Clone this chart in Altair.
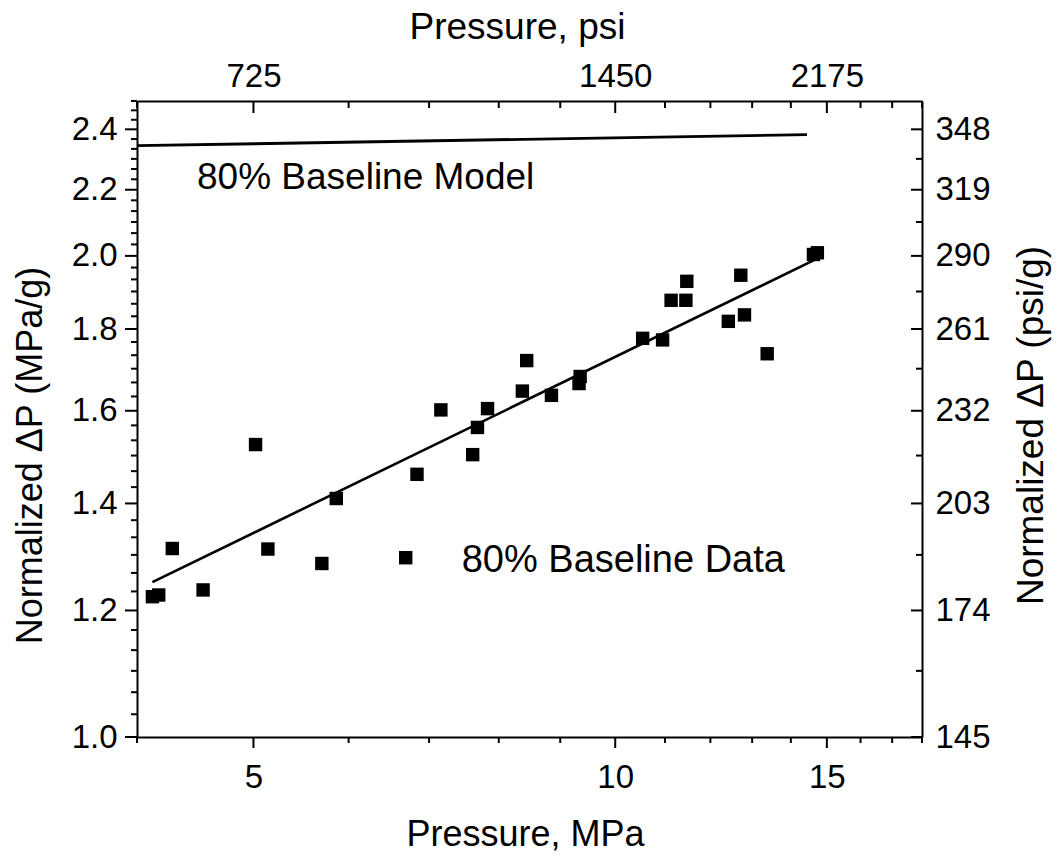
import altair as alt
import pandas as pd

# ---------------- data ----------------
pressure_mpa = [4.12, 4.17, 4.28, 4.54, 5.02, 5.14, 5.70, 5.86, 6.84, 7.16,
                7.61, 7.68, 7.83, 8.37, 8.44, 8.85, 9.33, 9.35, 10.54, 10.95,
                11.13, 11.45, 11.47, 12.42, 12.72, 12.81, 13.38, 14.62, 14.73]
norm_dp = [1.224, 1.227, 1.312, 1.236, 1.524, 1.311, 1.284, 1.410, 1.460, 1.602,
           1.502, 1.562, 1.605, 1.646, 1.720, 1.636, 1.664, 1.681, 1.776, 1.772,
           1.876, 1.876, 1.928, 1.820, 1.945, 1.837, 1.737, 2.004, 2.009]

fit_x = [4.12, 14.68]
fit_y = [1.250, 1.990]

model_x = [4.0, 14.44]
model_y = [2.344, 2.382]

model_label = ["80% Baseline Model"]
data_label = ["80% Baseline Data"]

# ---------------- ticks / tick labels ----------------
x_major = [5, 10, 15]
x_minor = [4, 6, 7, 8, 9, 11, 12, 13, 14, 16, 17, 18]
psi_labels = ["725", "1450", "2175"]

y_major = [1.0, 1.2, 1.4, 1.6, 1.8, 2.0, 2.2, 2.4]
y_left_all = [round(1 + i / 30, 6) for i in range(46)]
y_left_minor = [v for v in y_left_all if min(abs(v - m) for m in y_major) > 1e-6]
y_right_minor = [1.1, 1.3, 1.5, 1.7, 1.9, 2.1, 2.3]
psi_g_labels = ["145", "174", "203", "232", "261", "290", "319", "348"]

FONT = "Liberation Sans"
W, H = 785, 636

xs = alt.Scale(type="log", domain=[4, 18], nice=False)
ys = alt.Scale(type="log", domain=[1.0, 2.5], nice=False)

psi_expr = "".join(f"datum.value == {v} ? '{l}' : " for v, l in zip(x_major, psi_labels)) + "''"
psig_expr = "".join(f"abs(datum.value - {v}) < 1e-6 ? '{l}' : " for v, l in zip(y_major, psi_g_labels)) + "''"

pts = pd.DataFrame({"p": pressure_mpa, "dp": norm_dp})
fit = pd.DataFrame({"p": fit_x, "dp": fit_y})
model = pd.DataFrame({"p": model_x, "dp": model_y})

common = dict(ticks=False, tickSize=0, labelOverlap=False, labelFlush=False, labelBound=False)

bottom_axis = alt.Axis(
    orient="bottom", values=x_major, format="d",
    labelFontSize=33, labelBaseline="alphabetic", labelPadding=50,
    title="Pressure, MPa", titleFontSize=36, titleBaseline="alphabetic",
    titleAlign="center", titleX=388, titleY=108, **common,
)
left_axis = alt.Axis(
    orient="left", values=y_major, format=".1f",
    labelFontSize=33, labelPadding=20,
    title="Normalized \u0394P (MPa/g)", titleFontSize=36, titleAngle=270,
    titleBaseline="alphabetic", titleAlign="center", titleX=-96, titleY=354, **common,
)
top_axis = alt.Axis(
    orient="top", values=x_major,
    labelExpr=psi_expr, labelFontSize=33, labelBaseline="alphabetic", labelPadding=15,
    title="Pressure, psi", titleFontSize=37, titleBaseline="alphabetic",
    titleAlign="center", titleX=380, titleY=-63, **common,
)
right_axis = alt.Axis(
    orient="right", values=y_major,
    labelExpr=psig_expr, labelFontSize=33, labelPadding=13,
    title="Normalized \u0394P (psi/g)", titleFontSize=37, titleAngle=270,
    titleBaseline="alphabetic", titleAlign="center", titleX=120, titleY=324, **common,
)

points = alt.Chart(pts).mark_square(size=180, color="black", opacity=1).encode(
    x=alt.X("p:Q", scale=xs, axis=bottom_axis),
    y=alt.Y("dp:Q", scale=ys, axis=left_axis),
)

model_line = alt.Chart(model).mark_line(color="black", strokeWidth=2.8).encode(
    x=alt.X("p:Q", scale=xs, axis=top_axis),
    y=alt.Y("dp:Q", scale=ys, axis=right_axis),
)

fit_line = alt.Chart(fit).mark_line(color="black", strokeWidth=2.6).encode(
    x=alt.X("p:Q", scale=xs, axis=None),
    y=alt.Y("dp:Q", scale=ys, axis=None),
)


def xticks(vals, y0, y1):
    return alt.Chart(pd.DataFrame({"p": vals})).mark_rule(color="black", strokeWidth=2).encode(
        x=alt.X("p:Q", scale=xs, axis=None), y=alt.value(y0), y2=alt.value(y1))


def yticks(vals, x0, x1):
    return alt.Chart(pd.DataFrame({"dp": vals})).mark_rule(color="black", strokeWidth=2).encode(
        y=alt.Y("dp:Q", scale=ys, axis=None), x=alt.value(x0), x2=alt.value(x1))


tick_layers = [
    xticks(x_major, H, H + 11), xticks(x_minor, H, H + 6),      # bottom, outward
    xticks(x_major, 0, 12), xticks(x_minor, 0, 7),              # top, inward
    yticks(y_major, 0, -12), yticks(y_left_minor, 0, -6),       # left, outward
    yticks(y_major, W, W - 11), yticks(y_right_minor, W, W - 6),  # right, inward
]

model_text = alt.Chart(pd.DataFrame({"t": model_label})).mark_text(
    font=FONT, fontSize=37, align="left", baseline="alphabetic", color="black"
).encode(text="t:N", x=alt.value(60), y=alt.value(88))

legend_sym = alt.Chart(pd.DataFrame({"t": data_label})).mark_square(
    size=180, color="black", opacity=1
).encode(x=alt.value(268.7), y=alt.value(456.7))

data_text = alt.Chart(pd.DataFrame({"t": data_label})).mark_text(
    font=FONT, fontSize=38, align="left", baseline="alphabetic", color="black"
).encode(text="t:N", x=alt.value(324.7), y=alt.value(470.7))

chart = alt.layer(
    points, model_line, fit_line, *tick_layers,
    model_text, legend_sym, data_text,
).resolve_scale(x="shared", y="shared").resolve_axis(
    x="independent", y="independent"
).properties(
    width=W, height=H,
    autosize=alt.AutoSizeParams(type="none"),
    padding={"left": 137, "top": 101, "right": 1060 - 137 - W, "bottom": 859 - 101 - H},
    background="white",
).configure_axis(
    labelFont=FONT, titleFont=FONT, labelColor="black", titleColor="black",
    titleFontWeight="normal", domainColor="black", domainWidth=2, grid=False,
).configure_view(stroke=None)

chart.save("out.html", embed_options={"renderer": "svg", "actions": False})
